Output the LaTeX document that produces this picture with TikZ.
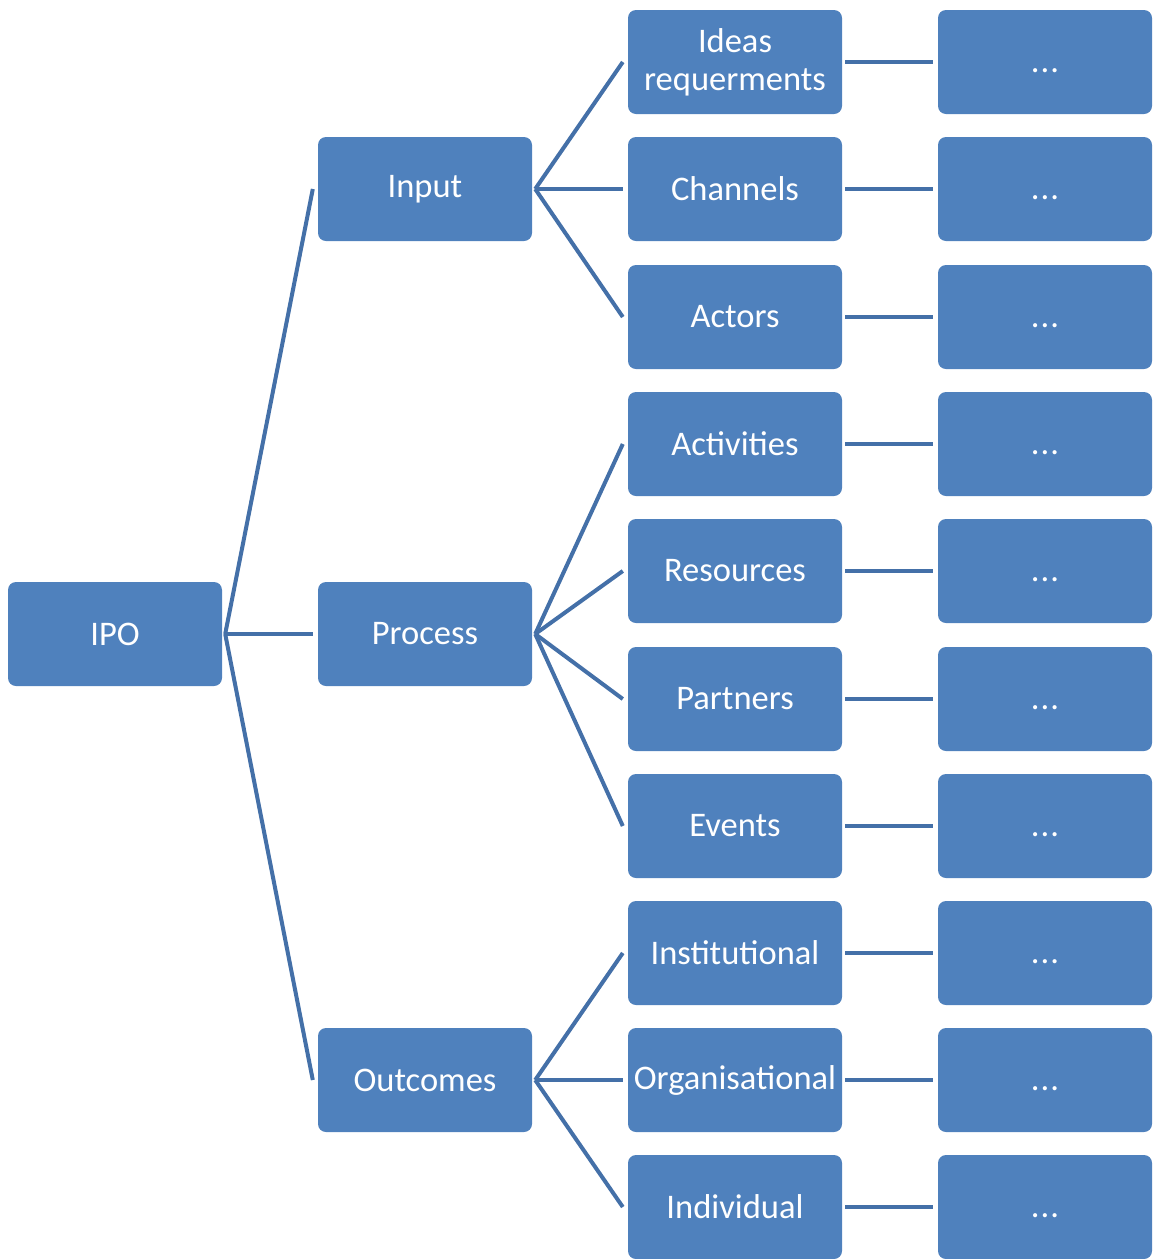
\documentclass[tikz,border=0pt]{standalone}
\usepackage{fontspec}
\setmainfont{Carlito}
\begin{document}
\begin{tikzpicture}[x=1pt,y=-1pt,
  box/.style={fill=boxblue, draw=none, rounded corners=8pt,
    minimum width=214pt, minimum height=104pt, inner sep=1pt,
    text=white, align=center,
    font=\fontsize{34.5}{38}\selectfont},
  link/.style={draw=lineblue, line width=4pt}]
\definecolor{boxblue}{HTML}{4F81BD}
\definecolor{lineblue}{HTML}{4470A8}
\useasboundingbox (0,0) rectangle (1156,1259);

% root and first level
\node[box] (ipo) at (115,634) {IPO};
\node[box] (input) at (425,189) {Input};
\node[box] (process) at (425,634) {Process};
\node[box] (outcomes) at (425,1080) {Outcomes};

% second level
\node[box] (ideas) at (735,62) {Ideas\\requerments};
\node[box] (channels) at (735,189) {Channels};
\node[box] (actors) at (735,317) {Actors};
\node[box] (activities) at (735,444) {Activities};
\node[box] (resources) at (735,571) {Resources};
\node[box] (partners) at (735,699) {Partners};
\node[box] (events) at (735,826) {Events};
\node[box] (institutional) at (735,953) {Institutional};
\node[box] (organisational) at (735,1080) {Organisational};
\node[box] (individual) at (735,1207) {Individual};

% placeholder column
\foreach \n/\y in {ideas/62,channels/189,actors/317,activities/444,resources/571,
                   partners/699,events/826,institutional/953,organisational/1080,individual/1207}{
  \node[box] (\n-more) at (1045,\y) {\vphantom{I}.\kern1pt.\kern1pt.};
  \draw[link] ([xshift=3pt]\n.east) -- ([xshift=-5pt]\n-more.west);
}

% fan-out connectors
\foreach \c in {input,process,outcomes}
  \draw[link] ([xshift=3pt]ipo.east) -- ([xshift=-5pt]\c.west);
\foreach \c in {ideas,channels,actors}
  \draw[link] ([xshift=3pt]input.east) -- ([xshift=-5pt]\c.west);
\foreach \c in {activities,resources,partners,events}
  \draw[link] ([xshift=3pt]process.east) -- ([xshift=-5pt]\c.west);
\foreach \c in {institutional,organisational,individual}
  \draw[link] ([xshift=3pt]outcomes.east) -- ([xshift=-5pt]\c.west);
\end{tikzpicture}
\end{document}
